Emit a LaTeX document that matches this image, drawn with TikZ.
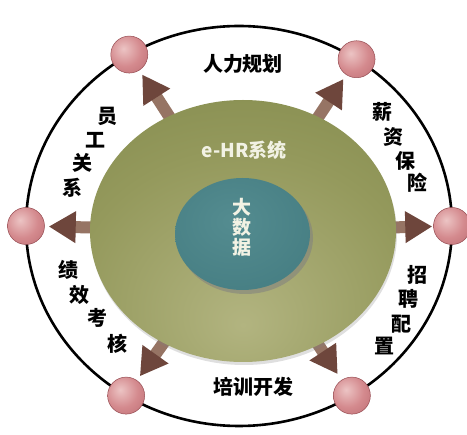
\documentclass[tikz,border=0pt]{standalone}
\usepackage{fontspec}
\newfontfamily\cjk{Noto Sans CJK SC}
\usetikzlibrary{arrows.meta,shapes.geometric,shadows,calc}
\definecolor{ballhi}{RGB}{236,196,196}
\definecolor{ballmid}{RGB}{212,138,142}
\definecolor{balledge}{RGB}{172,88,96}
\definecolor{balline}{RGB}{150,76,82}
\definecolor{shaft}{RGB}{150,116,100}
\definecolor{tipc}{RGB}{110,70,60}
\definecolor{glight}{RGB}{178,180,128}
\definecolor{gmid}{RGB}{148,153,92}
\definecolor{gdark}{RGB}{116,126,64}
\definecolor{tlight}{RGB}{84,140,144}
\definecolor{tdark}{RGB}{42,98,104}
\definecolor{paletext}{RGB}{242,242,228}
\pgfdeclareradialshading{pinkball}{\pgfpoint{-8bp}{8bp}}{color(0bp)=(ballhi); color(22bp)=(ballmid); color(58bp)=(balledge); color(100bp)=(balledge)}
\pgfdeclareradialshading{greenell}{\pgfpoint{0bp}{-18bp}}{color(0bp)=(glight); color(28bp)=(gmid); color(62bp)=(gdark); color(100bp)=(gdark)}
\pgfdeclareradialshading{tealell}{\pgfpoint{-4bp}{6bp}}{color(0bp)=(tlight); color(30bp)=(tlight!70!tdark); color(55bp)=(tdark); color(100bp)=(tdark)}
\tikzset{
  ballnode/.style={circle, minimum size=37pt, inner sep=0pt, shading=pinkball, draw=balline, line width=0.5pt},
  fatarrow/.style={draw=shaft, line width=12pt, shorten >=2pt,
    -{Triangle[width=30pt,length=27pt,color=tipc]}},
  lab/.style={font=\cjk\bfseries\fontsize{20}{20}\selectfont, text=black, inner sep=0pt},
}
\begin{document}
\begin{tikzpicture}[x=1pt,y=-1pt]
\useasboundingbox (0,0) rectangle (467,435);
\fill[white] (0,0) rectangle (467,435);
% outer ring
\coordinate (oc) at (239,226);
\draw[line width=2.6pt] (oc) ellipse [x radius=213, y radius=200];
% balls on the ring
\node[ballnode] (b1) at ($(oc)+(121:213 and -200)$) {};
\node[ballnode] (b2) at ($(oc)+(56.5:213 and -200)$) {};
\node[ballnode] (b3) at ($(oc)+(180:213 and -200)$) {};
\node[ballnode] (b4) at ($(oc)+(0:213 and -200)$) {};
\node[ballnode] (b5) at ($(oc)+(238:213 and -200)$) {};
\node[ballnode] (b6) at ($(oc)+(-58:213 and -200)$) {};
% arrows from the centre
\coordinate (gc) at (243,231);
\foreach \b/\s in {b1/5pt,b2/5pt,b3/4pt,b4/1pt,b5/5pt,b6/7pt} {
  \draw[fatarrow, shorten >=\s] (gc) -- (\b);
}
% green ellipse
\node[ellipse, minimum width=306pt, minimum height=262pt, inner sep=0pt,
      shading=greenell, drop shadow={opacity=0.25, shadow xshift=1pt, shadow yshift=-3pt}] (ge) at (gc) {};
% teal ellipse
\node[ellipse, minimum width=135pt, minimum height=112pt, inner sep=0pt,
      shading=tealell, drop shadow={opacity=0.55, shadow xshift=3pt, shadow yshift=-4pt}] (te) at (242.5,234) {};
% centre texts
\node[font=\cjk\bfseries\fontsize{19}{19}\selectfont, text=paletext, inner sep=0pt] (ehr) at (244,150) {e-HR系统};
\node[font=\cjk\bfseries\fontsize{19}{20}\selectfont, text=paletext, align=center, inner sep=0pt] (dsj) at (242,227) {大\\数\\据};
% labels
\node[lab] (t1) at (243,64) {人力规划};
\node[lab] (t2) at (253,387) {培训开发};
\foreach \ch/\x/\y [count=\i] in {员/107/116, 工/95/140, 关/82/163, 系/72/188,
    薪/382/112, 资/393/137, 保/405/161, 险/417/183,
    招/417/275, 聘/408/299, 配/401/324, 置/384/346,
    绩/68/270, 效/80/295, 考/97/318, 核/117/344} {
  \node[lab] (v\i) at (\x,\y) {\ch};
}
\end{tikzpicture}
\end{document}
